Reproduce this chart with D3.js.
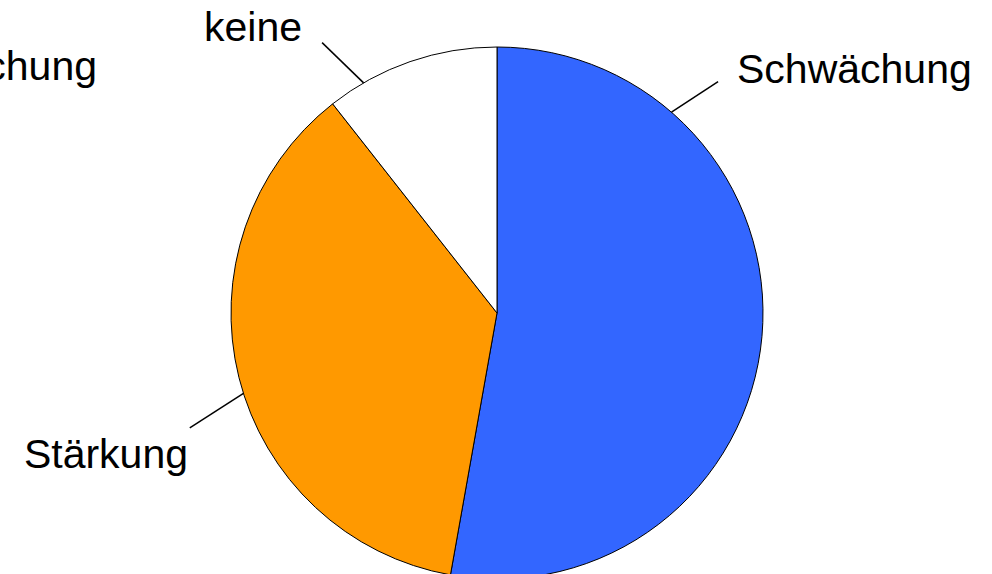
<!DOCTYPE html>
<html>
<head>
<meta charset="utf-8">
<script src="https://cdn.jsdelivr.net/npm/d3@7"></script>
<style>
  html, body { margin: 0; padding: 0; background: #fff; overflow: hidden; }
  text { font-family: "Liberation Sans", Arial, sans-serif; }
</style>
</head>
<body>
<svg id="pie-chart"></svg>
<script>
// data
const categories = ['Schwächung', 'Stärkung', 'keine'];
const shares = [52.8, 36.6, 10.6];
const colors = ['#3366ff', '#ff9900', '#ffffff'];
const strayLabel = 'Abschwächung';

const svgW = 992, svgH = 574;
const cx = 497, cy = 313, radius = 266;

// where each label sits (leader angle in degrees, text position + anchor)
const labelLayout = {
    'Schwächung': { a0: 41, a1: 43.7, r1: 320, x: 737, y: 83, anchor: 'start' },
    'Stärkung': { a0: 252.4, a1: 249.5, r1: 328, x: 188, y: 468, anchor: 'end' },
    'keine': { a0: 329.9, a1: 327.1, r1: 322, x: 302, y: 41, anchor: 'end' }
};

const svgE = d3.select('#pie-chart')
    .attr('width', svgW)
    .attr('height', svgH);

const pie = d3.pie().sort(null).value((d) => d.v);
const arc = d3.arc().innerRadius(0).outerRadius(radius);
const arcs = pie(categories.map((c, i) => ({ c, v: shares[i], col: colors[i] })));

const g = svgE.append('g')
    .attr('transform', `translate(${cx}, ${cy})`);

g.selectAll('path')
    .data(arcs)
    .enter().append('path')
    .attr('d', arc)
    .attr('fill', (d) => d.data.col)
    .attr('stroke', '#000')
    .attr('stroke-width', 1);

// leader lines
const rad = (deg) => deg * Math.PI / 180;
g.selectAll('line.lead')
    .data(arcs)
    .enter().append('line')
    .attr('class', 'lead')
    .attr('x1', (d) => radius * Math.sin(rad(labelLayout[d.data.c].a0)))
    .attr('y1', (d) => -radius * Math.cos(rad(labelLayout[d.data.c].a0)))
    .attr('x2', (d) => labelLayout[d.data.c].r1 * Math.sin(rad(labelLayout[d.data.c].a1)))
    .attr('y2', (d) => -labelLayout[d.data.c].r1 * Math.cos(rad(labelLayout[d.data.c].a1)))
    .attr('stroke', '#000')
    .attr('stroke-width', 1.5);

svgE.selectAll('text.lbl')
    .data(arcs)
    .enter().append('text')
    .attr('class', 'lbl')
    .attr('x', (d) => labelLayout[d.data.c].x)
    .attr('y', (d) => labelLayout[d.data.c].y)
    .attr('text-anchor', (d) => labelLayout[d.data.c].anchor)
    .attr('font-size', 41)
    .attr('fill', '#000')
    .text((d) => d.data.c);

// label that runs off the left edge
svgE.append('text')
    .attr('x', 97)
    .attr('y', 80)
    .attr('text-anchor', 'end')
    .attr('font-size', 41)
    .attr('fill', '#000')
    .text(strayLabel);
</script>
</body>
</html>
